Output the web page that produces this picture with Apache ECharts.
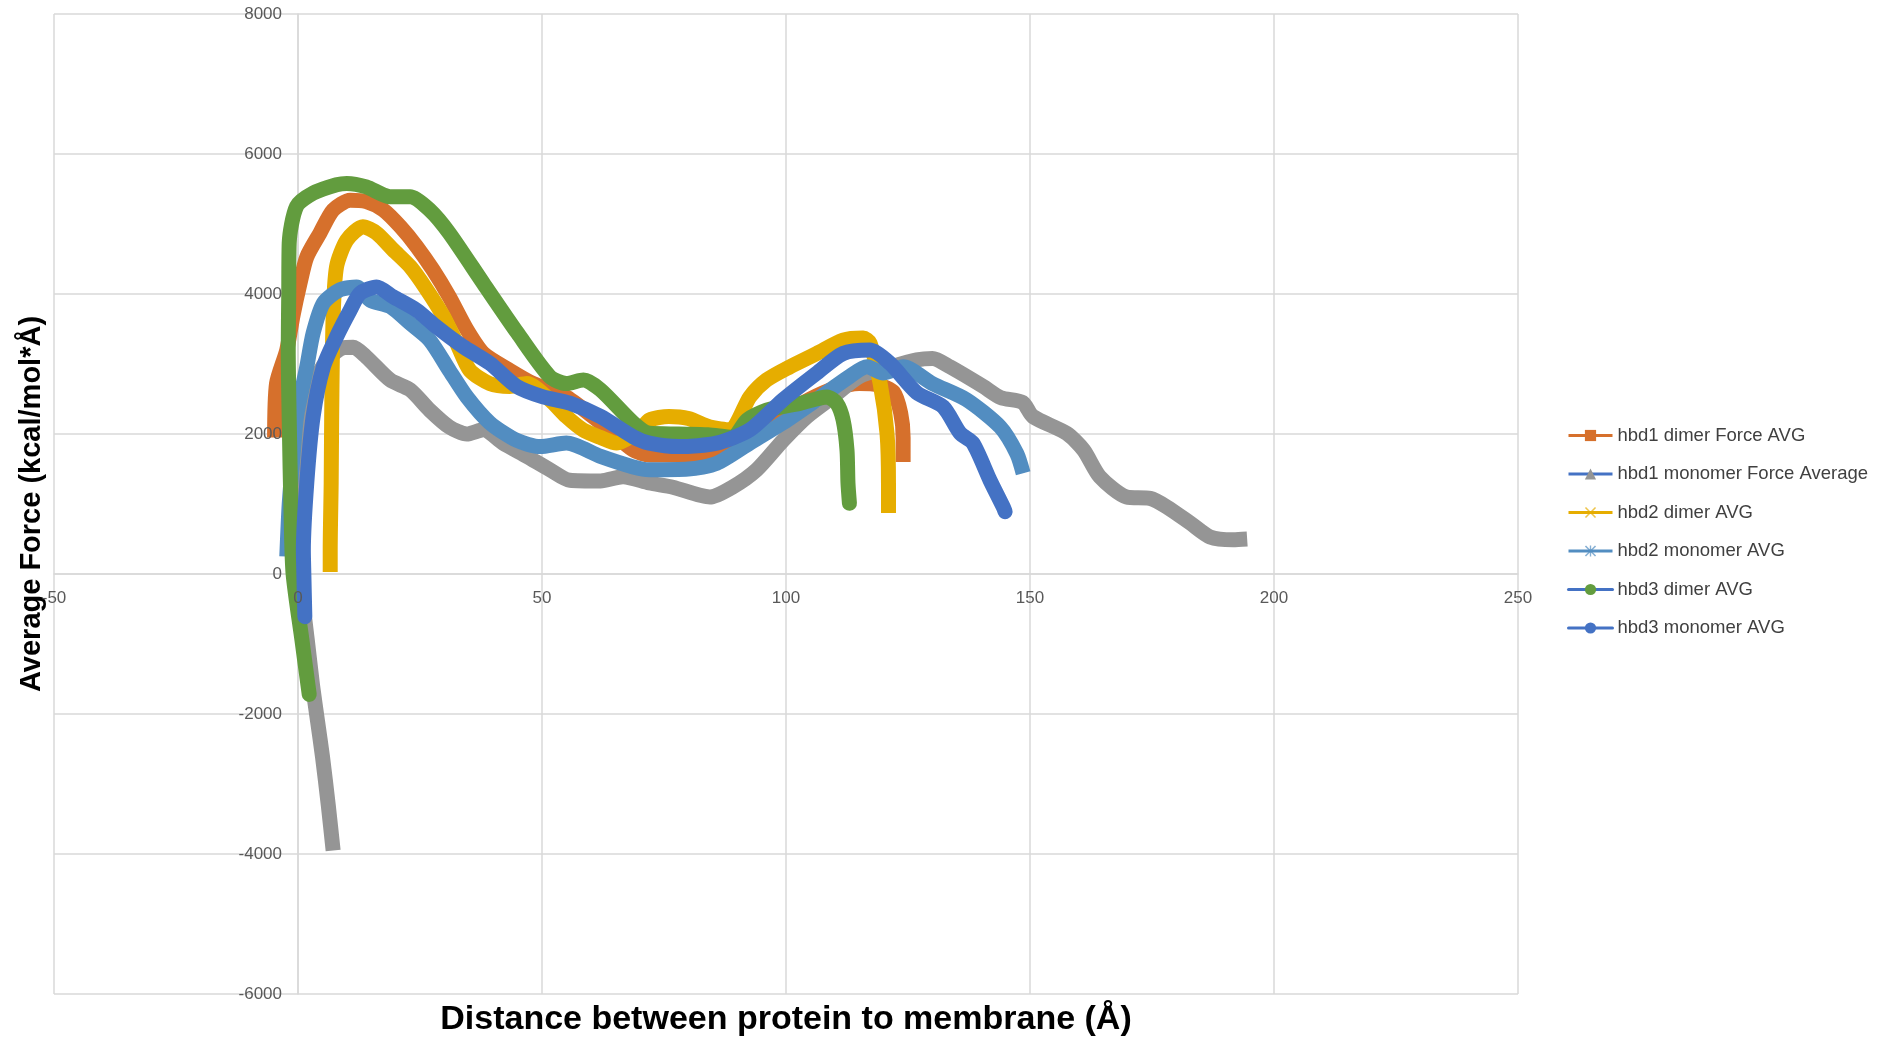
<!DOCTYPE html>
<html>
<head>
<meta charset="utf-8">
<script src="https://cdn.jsdelivr.net/npm/echarts@6/dist/echarts.min.js"></script>
<style>
  html, body { margin: 0; padding: 0; background: #fff; }
  #chart { width: 1885px; height: 1044px; }
</style>
</head>
<body>
<div id="chart"></div>
<script>
// series names (legend order)
const names = [
  "hbd1 dimer Force AVG",
  "hbd1 monomer Force Average",
  "hbd2 dimer AVG",
  "hbd2 monomer AVG",
  "hbd3 dimer AVG",
  "hbd3 monomer AVG"
];

// [distance, force] pairs
const hbd1Dimer = [[-4.8,1950],[-4.4,2720],[-2.3,3200],[-1,3700],[0.4,4150],[1.8,4530],[4.5,4870],[7.2,5200],[10.7,5340],[14,5320],[17.5,5200],[21,4960],[24.3,4680],[27.7,4340],[31,3960],[34.6,3490],[38,3150],[43.4,2910],[48.2,2720],[55,2530],[62,2160],[68.7,1770],[72,1700],[78,1700],[85,1750],[90,1850],[95,2050],[100,2300],[105,2500],[110,2650],[115,2720],[119,2700],[122,2600],[123.5,2300],[124,1950],[124,1600]];

const hbd1Monomer = [[7.2,-3950],[6.2,-3300],[5,-2600],[4,-2100],[3,-1600],[2,-1000],[1,-400],[0.2,300],[0,900],[0.3,1500],[1.2,2100],[2.5,2550],[3.8,2820],[6.6,3100],[9.2,3230],[11.3,3240],[14,3100],[18.9,2770],[23,2630],[27,2340],[31,2100],[34.6,2000],[38,2060],[42,1870],[46.9,1680],[51.6,1490],[55.7,1340],[62,1330],[66.6,1390],[72,1300],[76.8,1240],[84.4,1100],[89,1240],[94,1490],[99.4,1910],[104.3,2250],[109.6,2530],[115,2820],[121,2950],[126.8,3060],[130,3080],[133.6,2960],[140.4,2680],[144,2520],[148.5,2450],[150.6,2250],[157.5,2010],[161,1770],[164.3,1390],[169.8,1100],[174.6,1080],[178,960],[182.8,730],[186.9,530],[191.6,490],[194.5,500]];

const hbd2Dimer = [[6.6,30],[6.6,340],[6.8,1300],[6.9,2250],[7.2,3670],[7.9,4390],[10,4770],[13.3,4960],[16.1,4870],[19.5,4630],[23,4390],[26.4,4060],[29.8,3680],[32.5,3300],[35.2,2910],[39.3,2720],[43.4,2680],[46.9,2720],[51.6,2490],[55,2250],[58.4,2060],[62,1950],[65.3,1870],[70,2050],[72,2200],[76,2250],[80,2220],[84.4,2100],[88.5,2060],[92.6,2530],[96,2770],[100.8,2960],[106.3,3150],[111.7,3340],[115.8,3370],[117.2,3300],[119.3,2720],[120.7,2010],[121,1300],[121,870]];

const hbd2Monomer = [[-2.3,250],[-1.8,1000],[-1,1700],[-0.3,2250],[1.8,2960],[3.1,3440],[5.2,3870],[8.6,4060],[12,4100],[14.8,3910],[18.9,3820],[23,3580],[27,3340],[31,2910],[34.6,2530],[39.3,2160],[44.8,1910],[49.6,1820],[55,1870],[62,1680],[68.7,1530],[72,1490],[80,1500],[85.8,1580],[92.6,1870],[99.4,2160],[106.3,2490],[113,2820],[116.6,2960],[119.9,2870],[124,2960],[130,2720],[137,2490],[143.9,2100],[147.3,1720],[148.6,1440]];

const hbd3Dimer = [[2.3,-1720],[0.8,-940],[-1,0],[-1.4,800],[-1.8,2200],[-2,3200],[-1.9,4000],[-1.8,4730],[-0.3,5250],[3.1,5440],[7.9,5560],[10,5580],[14,5530],[18.9,5390],[23,5390],[27,5200],[31,4870],[38,4150],[45,3440],[51.6,2820],[55,2720],[58.5,2770],[62,2630],[68.7,2160],[72,2010],[78,2000],[84,1990],[89,1950],[92,2200],[96,2340],[103,2440],[108.4,2530],[110.4,2440],[111.7,2200],[112.5,1770],[112.7,1300],[113,1010]];

const hbd3Monomer = [[1.4,-610],[1.2,0],[1.1,340],[1.8,1300],[3.1,2250],[5.2,2960],[7.9,3390],[10.7,3770],[12.7,4010],[16.1,4100],[19.5,3960],[24.3,3770],[28.4,3530],[33.8,3250],[39.3,3010],[44.8,2680],[50.2,2530],[55.7,2440],[62,2250],[68.7,1960],[72,1870],[78,1820],[85.8,1870],[92.6,2060],[99.4,2490],[106.3,2870],[111.7,3150],[117.2,3200],[121.3,3010],[126.8,2590],[132.2,2390],[135.7,2010],[138.3,1870],[141.8,1340],[144.5,960],[144.9,890]];

const seriesData = [hbd1Dimer, hbd1Monomer, hbd2Dimer, hbd2Monomer, hbd3Dimer, hbd3Monomer];

// axis ranges
const xMin = -50, xMax = 250, xStep = 50;
const yMin = -6000, yMax = 8000, yStep = 2000;

const markColors = ["#d6702c", "#959595", "#e6ad00", "#528dc1", "#629c3e", "#4472c4"];
const legendLineColors = ["#d6702c", "#4472c4", "#e6ad00", "#528dc1", "#4472c4", "#4472c4"];
const symbols = [
  "rect",
  "triangle",
  "path://M0,1L1,0L5,4L9,0L10,1L6,5L10,9L9,10L5,6L1,10L0,9L4,5Z",
  "path://M0,1L1,0L5,4L9,0L10,1L6,5L10,9L9,10L5,6L1,10L0,9L4,5Z M4.4,0L5.6,0L5.6,10L4.4,10Z",
  "circle",
  "circle"
];
const caps = ["butt", "butt", "butt", "butt", "round", "round"];

const gridColor = "#d9d9d9";
const labelFont = "'Liberation Sans', Arial, sans-serif";

// grid box in pixels; axes cross at (0, 0) inside it
const gridLeft = 54, gridTop = 14, gridRight = 367, gridBottom = 50;
const plotW = 1885 - gridLeft - gridRight;
const plotH = 1044 - gridTop - gridBottom;
const yAxisShift = plotW * (0 - xMin) / (xMax - xMin);
const xAxisShift = plotH * (0 - yMin) / (yMax - yMin);

const tickLabel = { color: "#595959", fontSize: 17, margin: 16, fontFamily: labelFont, formatter: (v) => String(v) };

const chart = echarts.init(document.getElementById("chart"));

const option = {
  animation: false,
  backgroundColor: "#fff",
  grid: { left: gridLeft, top: gridTop, right: gridRight, bottom: gridBottom, containLabel: false, outerBoundsMode: "none" },
  legend: {
    orient: "vertical",
    left: 1562,
    top: 421,
    itemWidth: 44,
    itemHeight: 14,
    itemGap: 19.5,
    textStyle: { color: "#404040", fontSize: 18.5, lineHeight: 18, fontFamily: labelFont },
    lineStyle: { width: 3 },
    data: names.map((n, i) => ({
      name: n,
      itemStyle: { color: markColors[i], opacity: i === 2 || i === 3 ? 0.7 : 1 },
      lineStyle: { color: legendLineColors[i], width: 3 }
    }))
  },
  xAxis: [
    {
      // grid lines, zero line and title
      type: "value",
      min: xMin,
      max: xMax,
      interval: xStep,
      position: "bottom",
      offset: -xAxisShift,
      name: "Distance between protein to membrane (Å)",
      nameLocation: "middle",
      nameGap: 429,
      nameTextStyle: { color: "#000", fontSize: 34, fontWeight: "bold", fontFamily: labelFont },
      axisLine: { show: true, onZero: false, lineStyle: { color: gridColor, width: 1.5 } },
      axisTick: { show: false },
      axisLabel: { show: false },
      splitLine: { show: true, lineStyle: { color: gridColor, width: 1.5 } }
    },
    {
      // tick labels, drawn above the curves
      type: "value",
      min: xMin,
      max: xMax,
      interval: xStep,
      position: "bottom",
      offset: -xAxisShift,
      z: 10,
      axisLine: { show: false, onZero: false },
      axisTick: { show: false },
      axisLabel: tickLabel,
      splitLine: { show: false }
    }
  ],
  yAxis: [
    {
      type: "value",
      min: yMin,
      max: yMax,
      interval: yStep,
      position: "left",
      offset: -yAxisShift,
      name: "Average Force (kcal/mol*Å)",
      nameLocation: "middle",
      nameGap: 252,
      nameTextStyle: { color: "#000", fontSize: 29, fontWeight: "bold", fontFamily: labelFont },
      axisLine: { show: true, onZero: false, lineStyle: { color: gridColor, width: 1.5 } },
      axisTick: { show: false },
      axisLabel: { show: false },
      splitLine: { show: true, lineStyle: { color: gridColor, width: 1.5 } }
    },
    {
      type: "value",
      min: yMin,
      max: yMax,
      interval: yStep,
      position: "left",
      offset: -yAxisShift,
      z: 10,
      axisLine: { show: false, onZero: false },
      axisTick: { show: false },
      axisLabel: tickLabel,
      splitLine: { show: false }
    }
  ],
  series: names.map((n, i) => ({
    name: n,
    type: "line",
    xAxisIndex: 0,
    yAxisIndex: 0,
    data: seriesData[i],
    symbol: symbols[i],
    showSymbol: false,
    smooth: 0.25,
    color: markColors[i],
    lineStyle: { width: 15, color: markColors[i], cap: caps[i], join: "round" },
    emphasis: { disabled: true }
  }))
};

chart.setOption(option);
</script>
</body>
</html>
